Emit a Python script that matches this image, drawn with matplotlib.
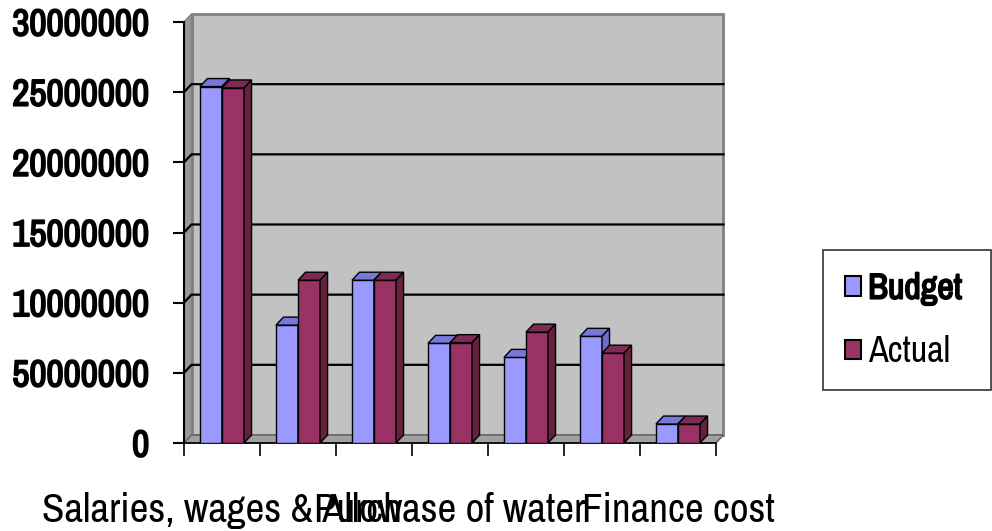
import numpy as np
import matplotlib
matplotlib.use("Agg")
import matplotlib.pyplot as plt
import matplotlib.patheffects as pe
from matplotlib.patches import Polygon, Rectangle

# data
categories = ["Salaries, wages & Allow", "", "", "Purchase of water", "", "", "Finance cost"]
budget = [25.4e6, 8.4e6, 11.6e6, 7.1e6, 6.1e6, 7.6e6, 1.35e6]
actual = [25.3e6, 11.6e6, 11.6e6, 7.15e6, 7.9e6, 6.4e6, 1.35e6]
series_names = ["Budget", "Actual"]
yticks = [0, 5e6, 10e6, 15e6, 20e6, 25e6, 30e6]
ytick_labels = ["0", "50000000", "10000000", "15000000", "20000000", "25000000", "30000000"]

FONT = ["Archivo Narrow", "Liberation Sans", "DejaVu Sans"]
plt.rcParams["font.family"] = FONT

front = {"Budget": "#9999ff", "Actual": "#993366"}
top = {"Budget": "#7878d8", "Actual": "#7d2a55"}
side = {"Budget": "#6f6fc8", "Actual": "#66213f"}

# narrow font has no bold face, thicken it with a stroke
fake_bold = [pe.Stroke(linewidth=1.3, foreground="black"), pe.Normal()]

fig = plt.figure(figsize=(9.92, 5.31), dpi=100)
W, H = 992, 531
ax = fig.add_axes([184 / W, 1 - 443 / H, (716 - 184) / W, (443 - 22) / H])

n = len(categories)
x = np.arange(1, n + 1)
ymax = 30e6
ax.set_xlim(0.5, n + 0.5)
ax.set_ylim(0, ymax)

# 3d depth in data units (about 7-8 px)
dx = 7.5 / 76
dy = 8 * ymax / 421
bw = 0.29

# back wall, left wall, floor
ax.add_patch(Rectangle((0.5 + dx, dy), n, ymax, facecolor="#c2c2c2",
                       edgecolor="#808080", lw=2, clip_on=False, zorder=0))
ax.add_patch(Polygon([(0.5, 0), (0.5 + dx, dy), (0.5 + dx, ymax + dy), (0.5, ymax)],
                     facecolor="#989898", edgecolor="#808080", lw=1, clip_on=False, zorder=0.5))
ax.add_patch(Polygon([(0.5, 0), (n + 0.5, 0), (n + 0.5 + dx, dy), (0.5 + dx, dy)],
                     facecolor="#a0a0a0", edgecolor="#606060", lw=1, clip_on=False, zorder=0.5))

# gridlines on the walls
for yv in yticks[1:-1]:
    ax.plot([0.5, 0.5 + dx, n + 0.5 + dx], [yv, yv + dy, yv + dy],
            color="black", lw=1.6, clip_on=False, zorder=1)


def draw_bars(xs, vals, name, z):
    ax.bar(xs, vals, bw, color=front[name], edgecolor="black", lw=1, zorder=z)
    for xc, v in zip(xs, vals):
        x0, x1 = xc - bw / 2, xc + bw / 2
        ax.add_patch(Polygon([(x0, v), (x1, v), (x1 + dx, v + dy), (x0 + dx, v + dy)],
                             facecolor=top[name], edgecolor="black", lw=1, zorder=z))
        ax.add_patch(Polygon([(x1, 0), (x1 + dx, dy), (x1 + dx, v + dy), (x1, v)],
                             facecolor=side[name], edgecolor="black", lw=1, zorder=z))


draw_bars(x - bw / 2, budget, "Budget", 3)
draw_bars(x + bw / 2, actual, "Actual", 4)

# axes styling
for s in ["top", "right"]:
    ax.spines[s].set_visible(False)
ax.spines["left"].set_linewidth(1.5)
ax.spines["bottom"].set_linewidth(1.2)
ax.spines["left"].set_zorder(5)

ax.set_yticks(yticks)
ax.set_yticklabels(ytick_labels, fontsize=27)
for t in ax.get_yticklabels():
    t.set_path_effects(fake_bold)
ax.tick_params(axis="y", direction="out", length=8, width=1.5, pad=17)

ax.set_xticks(np.arange(0.5, n + 1, 1))
ax.set_xticklabels([])
ax.tick_params(axis="x", which="major", direction="out", length=9, width=1.2)
ax.set_xticks(x, minor=True)
ax.set_xticklabels(categories, minor=True, fontsize=29.5)
ax.tick_params(axis="x", which="minor", length=0, pad=35)

# legend, box stretched to the right edge like the reference
handles = [Rectangle((0, 0), 1, 1, facecolor=front[s], edgecolor="black", lw=1.5)
           for s in series_names]
leg = fig.legend(handles, series_names, loc="upper left", mode="expand",
                 bbox_to_anchor=(823 / W, 1 - 250 / H, 168 / W, 0), fontsize=26,
                 frameon=True, fancybox=False, edgecolor="black",
                 handlelength=0.45, handleheight=0.45, handletextpad=0.2,
                 labelspacing=0.85, borderpad=0.6, borderaxespad=0)
leg.get_frame().set_linewidth(1.2)
leg.get_texts()[0].set_path_effects(fake_bold)

fig.savefig("out.png", dpi=100)
